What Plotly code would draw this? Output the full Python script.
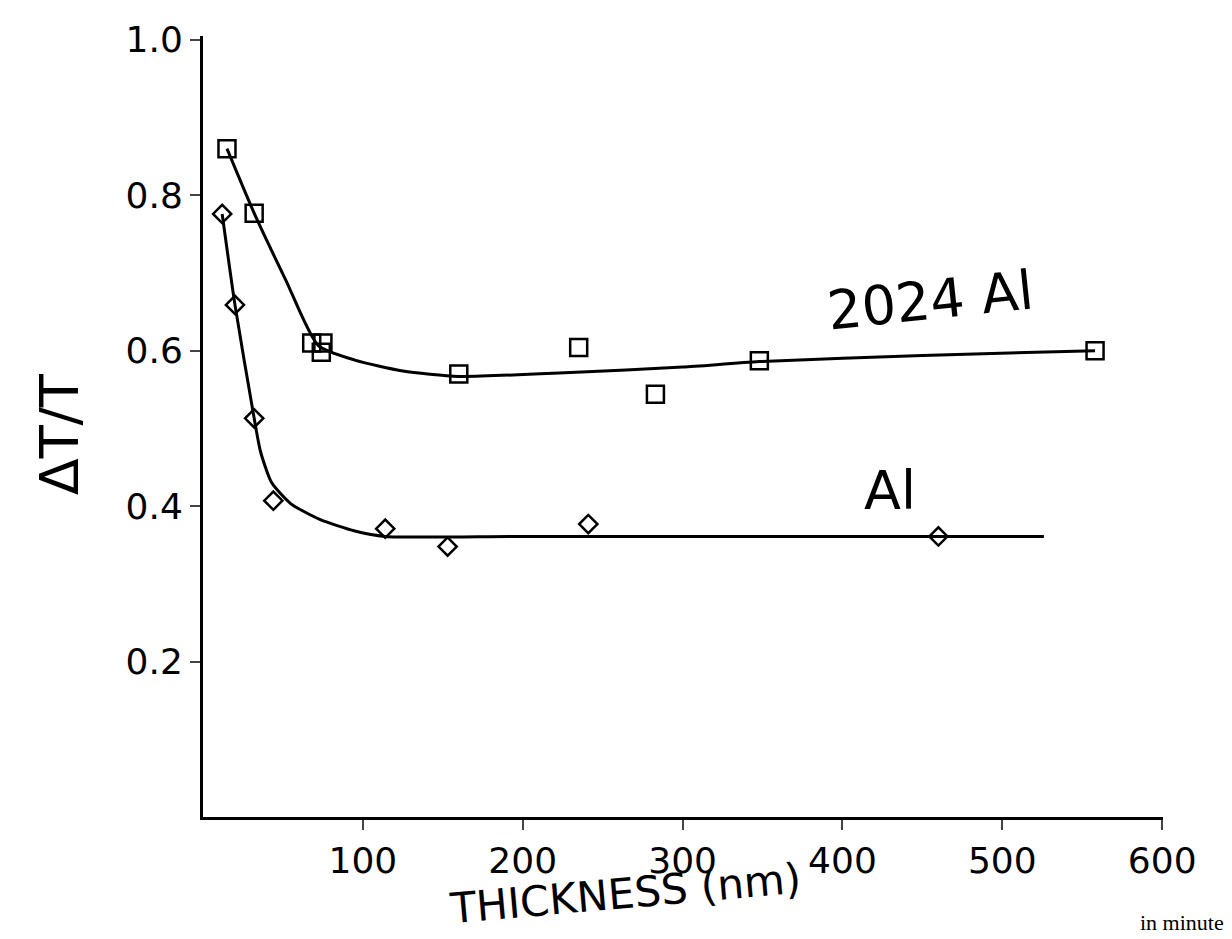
import plotly.graph_objects as go

# ---- data ----
al2024_x = [15, 32, 68, 75, 74, 160, 235, 283, 348, 558]
al2024_y = [0.86, 0.777, 0.61, 0.61, 0.598, 0.570, 0.604, 0.544, 0.587, 0.600]

al_x = [12, 20, 32, 44, 114, 153, 241, 460]
al_y = [0.776, 0.659, 0.513, 0.407, 0.371, 0.348, 0.377, 0.361]

# hand-drawn fit curves
fit2024_x = [15, 32, 52, 72, 95, 125, 160, 230, 300, 348, 450, 558]
fit2024_y = [0.86, 0.777, 0.69, 0.607, 0.588, 0.574, 0.567, 0.572, 0.579, 0.586, 0.594, 0.600]

fitAl_x = [12, 20, 32, 36, 43, 55, 73, 95, 114, 200, 526]
fitAl_y = [0.776, 0.659, 0.513, 0.47, 0.430, 0.403, 0.383, 0.368, 0.361, 0.361, 0.361]

x_ticks = [100, 200, 300, 400, 500, 600]
y_ticks = [0.2, 0.4, 0.6, 0.8, 1.0]
y_tick_text = ["0.2", "0.4", "0.6", "0.8", "1.0"]

FONT = "DejaVu Sans"

fig = go.Figure()
fig.add_trace(go.Scatter(x=fit2024_x, y=fit2024_y, mode="lines",
                         line=dict(color="black", width=3, shape="spline", smoothing=0.6),
                         showlegend=False, hoverinfo="skip"))
fig.add_trace(go.Scatter(x=fitAl_x, y=fitAl_y, mode="lines",
                         line=dict(color="black", width=3, shape="spline", smoothing=0.6),
                         showlegend=False, hoverinfo="skip"))
fig.add_trace(go.Scatter(x=al2024_x, y=al2024_y, mode="markers", name="2024 Al",
                         marker=dict(symbol="square-open", size=17, color="black",
                                     line=dict(width=2.5)),
                         showlegend=False))
fig.add_trace(go.Scatter(x=al_x, y=al_y, mode="markers", name="Al",
                         marker=dict(symbol="diamond-open", size=14, color="black",
                                     line=dict(width=2.5)),
                         showlegend=False))

fig.add_annotation(x=455, y=0.665, text="2024 Al", showarrow=False, textangle=-6,
                   font=dict(family=FONT, size=54, color="black"))
fig.add_annotation(x=430, y=0.42, text="Al", showarrow=False,
                   font=dict(family=FONT, size=54, color="black"))

fig.add_annotation(xref="paper", yref="paper", x=0.44, y=-0.098,
                   xanchor="center", yanchor="middle",
                   text="THICKNESS (nm)", showarrow=False, textangle=-5,
                   font=dict(family=FONT, size=42, color="black"))
fig.add_annotation(xref="paper", yref="paper", x=-0.15, y=0.49,
                   xanchor="center", yanchor="middle",
                   text="\u0394T/T", showarrow=False, textangle=-90,
                   font=dict(family=FONT, size=54, color="black"))
fig.add_annotation(xref="paper", yref="paper", x=1.066, y=-0.135,
                   xanchor="right", yanchor="middle",
                   text="in minute", showarrow=False,
                   font=dict(family="Liberation Serif", size=22, color="black"))

fig.update_layout(
    width=1232, height=939,
    margin=dict(l=195, r=77, t=20, b=130),
    paper_bgcolor="white", plot_bgcolor="white",
    font=dict(family=FONT, color="black"),
    xaxis=dict(range=[0, 600.5], tickvals=x_ticks, ticks="outside", ticklen=10, tickwidth=2,
               showline=True, linewidth=3, linecolor="black", showgrid=False, zeroline=False,
               tickfont=dict(size=36, family=FONT)),
    yaxis=dict(range=[0, 1.005], tickvals=y_ticks, ticktext=y_tick_text, ticks="outside",
               ticklen=10, tickwidth=2, showline=True, linewidth=3, linecolor="black",
               showgrid=False, zeroline=False, tickfont=dict(size=36, family=FONT)),
)

fig.write_html("out.html")
